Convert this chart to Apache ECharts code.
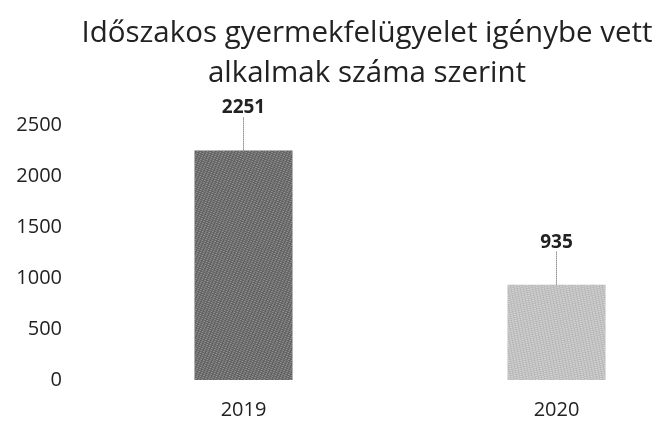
<!DOCTYPE html>
<html>
<head>
<meta charset="utf-8">
<script src="https://cdn.jsdelivr.net/npm/echarts@6/dist/echarts.min.js"></script>
<style>
  html, body { margin: 0; padding: 0; background: #fff; }
  #chart { width: 658px; height: 426px; }
</style>
</head>
<body>
<div id="chart"></div>
<script>
// adatok
const years = ['2019', '2020'];
const values = [2251, 935];
const barColors = ['#5e5e5e', '#b8b8b8'];
const yTicks = [0, 500, 1000, 1500, 2000, 2500];

const chart = echarts.init(document.getElementById('chart'));
const font = '"Open Sans", "Noto Sans", sans-serif';

chart.setOption({
  animation: false,
  backgroundColor: '#fff',
  title: {
    text: 'Időszakos gyermekfelügyelet igénybe vett\nalkalmak száma szerint',
    left: 362,
    top: 9,
    textAlign: 'center',
    textStyle: {
      fontFamily: font,
      fontWeight: 'normal',
      fontSize: 29.5,
      lineHeight: 40,
      color: '#222'
    }
  },
  // a rács jobbra túlnyúlik a vásznon, hogy a kategóriák középpontja stimmeljen
  grid: { left: 87, width: 626, top: 125, bottom: 46, outerBoundsMode: 'none' },
  xAxis: {
    type: 'category',
    data: years,
    axisLine: { show: false },
    axisTick: { show: false },
    axisLabel: { fontFamily: font, fontSize: 20, color: '#222', margin: 20 }
  },
  yAxis: {
    type: 'value',
    min: yTicks[0],
    max: yTicks[yTicks.length - 1],
    interval: 500,
    splitLine: { show: false },
    axisLabel: {
      fontFamily: font, fontSize: 20, color: '#222', margin: 25,
      formatter: v => String(v)
    }
  },
  series: [{
    type: 'bar',
    barWidth: 98,
    data: values.map((v, i) => ({
      value: v,
      itemStyle: {
        color: barColors[i],
        decal: {
          symbol: 'rect',
          symbolSize: 1,
          dashArrayX: [2, 1],
          dashArrayY: [1, 1],
          rotation: i === 0 ? 0.4 : -0.2,
          color: i === 0 ? 'rgba(255,255,255,0.35)' : 'rgba(255,255,255,0.45)'
        }
      }
    })),
    label: {
      show: true,
      position: 'top',
      distance: 4,
      fontFamily: font,
      fontWeight: 'bold',
      fontSize: 19,
      color: '#222'
    },
    labelLayout: { dy: -29 },
    labelLine: {
      show: true,
      lineStyle: { color: '#555', width: 1, type: 'dotted' }
    }
  }]
});
</script>
</body>
</html>
